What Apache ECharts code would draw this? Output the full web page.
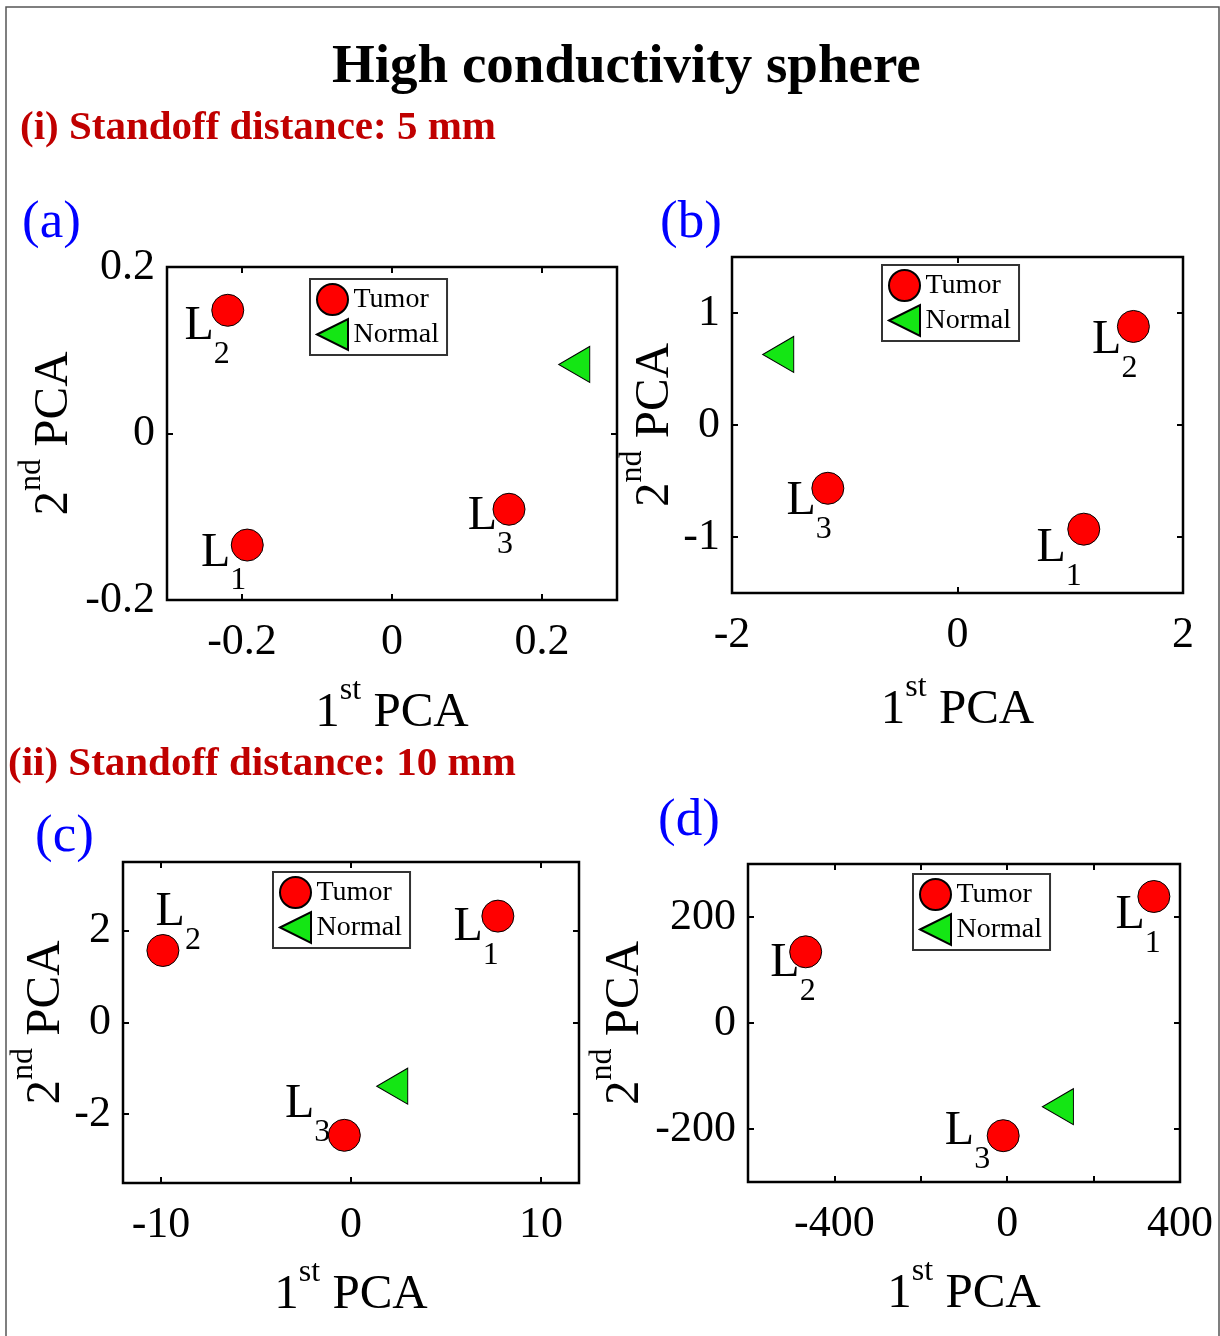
<!DOCTYPE html>
<html>
<head>
<meta charset="utf-8">
<script src="https://cdn.jsdelivr.net/npm/echarts@6/dist/echarts.min.js"></script>
<style>
html, body { margin: 0; padding: 0; background: #fff; }
#chart { width: 1220px; height: 1336px; }
</style>
</head>
<body>
<div id="chart"></div>
<script>
// PCA scores: three tumor locations (L1, L2, L3) and the normal (tumor-free) case
const tumorNames = ['L1', 'L2', 'L3'];

// (a) standoff 5 mm
const aTumorX = [-0.193, -0.219, 0.156];
const aTumorY = [-0.134, 0.148, -0.091];
const aNormal = [0.243, 0.083];
// (b) standoff 5 mm
const bTumorX = [1.12, 1.56, -1.15];
const bTumorY = [-0.93, 0.88, -0.565];
const bNormal = [-1.59, 0.63];
// (c) standoff 10 mm
const cTumorX = [7.73, -9.9, -0.35];
const cTumorY = [2.32, 1.57, -2.46];
const cNormal = [2.17, -1.39];
// (d) standoff 10 mm
const dTumorX = [339.5, -466.5, -9.3];
const dTumorY = [238.7, 134.3, -212.6];
const dNormal = [117.4, -158];

// axis ranges, tick positions and tick labels
const aXRange = [-0.3, 0.3], aYRange = [-0.2, 0.2];
const aXTicks = [-0.2, 0, 0.2], aYTicks = [-0.2, 0, 0.2];
const bXRange = [-2, 2], bYRange = [-1.5, 1.5];
const bXTicks = [-2, 0, 2], bYTicks = [-1, 0, 1];
const cXRange = [-12, 12], cYRange = [-3.5, 3.5];
const cXTicks = [-10, 0, 10], cYTicks = [-2, 0, 2];
const dXRange = [-600, 400], dYRange = [-300, 300];
const dXTicks = [-400, -200, 0, 200, 400], dXLabels = [-400, 0, 400], dYTicks = [-200, 0, 200];

const legendNames = ['Tumor', 'Normal'];
const xTitle = '{a|1}{s|st}{a| PCA}';
const yTitle = '{a|2}{s|nd}{a| PCA}';

const FONT = '"Liberation Serif", "Times New Roman", serif';
const RED = '#ff0000';
const GREEN = '#14e614';
const TRI_LEFT = 'path://M0,50L100,0L100,100Z';

// panel layout (pixels)
const panels = [
  { tx: aTumorX, ty: aTumorY, nrm: aNormal, xr: aXRange, yr: aYRange, xt: aXTicks, xl: aXTicks, yt: aYTicks,
    grid: { left: 167, top: 267, width: 450, height: 333 }, legend: { left: 310, top: 279 },
    xGap: 75, yGap: 102, offs: [[-1, -16], [2, -8], [4, -17]] },
  { tx: bTumorX, ty: bTumorY, nrm: bNormal, xr: bXRange, yr: bYRange, xt: bXTicks, xl: bXTicks, yt: bYTicks,
    grid: { left: 732, top: 257, width: 451, height: 336 }, legend: { left: 882, top: 265 },
    xGap: 79, yGap: 54, offs: [[-2, -5], [4, -10], [4, -11]] },
  { tx: cTumorX, ty: cTumorY, nrm: cNormal, xr: cXRange, yr: cYRange, xt: cXTicks, xl: cXTicks, yt: cYTicks,
    grid: { left: 123, top: 862, width: 456, height: 321 }, legend: { left: 273, top: 872 },
    xGap: 74, yGap: 57, offs: [[1, -13], [38, -62], [-14, -55]] },
  { tx: dTumorX, ty: dTumorY, nrm: dNormal, xr: dXRange, yr: dYRange, xt: dXTicks, xl: dXLabels, yt: dYTicks,
    grid: { left: 748, top: 864, width: 432, height: 318 }, legend: { left: 913, top: 874 },
    xGap: 74, yGap: 112, offs: [[7, -5], [10, -12], [-13, -28]] }
];

const nameRich = {
  a: { fontFamily: FONT, fontSize: 49, lineHeight: 49, padding: [14, 0, 0, 0], verticalAlign: 'top', color: '#000' },
  s: { fontFamily: FONT, fontSize: 32, lineHeight: 32, verticalAlign: 'top', color: '#000' }
};
const pointRich = {
  L: { fontFamily: FONT, fontSize: 48, lineHeight: 48, verticalAlign: 'top', color: '#000' },
  s: { fontFamily: FONT, fontSize: 32, lineHeight: 32, padding: [36, 0, 0, 0], verticalAlign: 'top', color: '#000' }
};

const grids = [], xAxes = [], yAxes = [], legends = [], series = [];

panels.forEach((p, k) => {
  grids.push(Object.assign({ show: true, borderColor: '#000', borderWidth: 2.5, containLabel: false }, p.grid));

  const tickStyle = { show: true, inside: true, length: 6, lineStyle: { color: '#000', width: 2 } };
  const labelStyle = { fontFamily: FONT, fontSize: 44, color: '#000' };

  xAxes.push({
    type: 'value', gridIndex: k, position: 'bottom', min: p.xr[0], max: p.xr[1],
    axisLine: { show: false, onZero: false }, splitLine: { show: false },
    axisTick: Object.assign({ customValues: p.xt }, tickStyle),
    axisLabel: Object.assign({ customValues: p.xl, margin: 20 }, labelStyle),
    name: xTitle, nameLocation: 'middle', nameGap: p.xGap, nameTextStyle: { rich: nameRich }
  });
  xAxes.push({
    type: 'value', gridIndex: k, position: 'top', min: p.xr[0], max: p.xr[1],
    axisLine: { show: false, onZero: false }, splitLine: { show: false },
    axisTick: Object.assign({ customValues: p.xt }, tickStyle),
    axisLabel: { show: false }
  });
  yAxes.push({
    type: 'value', gridIndex: k, position: 'left', min: p.yr[0], max: p.yr[1],
    axisLine: { show: false, onZero: false }, splitLine: { show: false },
    axisTick: Object.assign({ customValues: p.yt }, tickStyle),
    axisLabel: Object.assign({ customValues: p.yt, margin: 12, padding: [5, 0, 0, 0] }, labelStyle),
    name: yTitle, nameLocation: 'middle', nameRotate: 90, nameGap: p.yGap, nameTextStyle: { rich: nameRich }
  });
  yAxes.push({
    type: 'value', gridIndex: k, position: 'right', min: p.yr[0], max: p.yr[1],
    axisLine: { show: false, onZero: false }, splitLine: { show: false },
    axisTick: Object.assign({ customValues: p.yt }, tickStyle),
    axisLabel: { show: false }
  });

  legends.push({
    left: p.legend.left, top: p.legend.top, orient: 'vertical', selectedMode: false,
    data: legendNames, itemWidth: 32, itemHeight: 31, itemGap: 2, padding: [4, 8, 4, 6],
    borderColor: '#333', borderWidth: 2, backgroundColor: '#fff',
    textStyle: { fontFamily: FONT, fontSize: 28, color: '#000' }
  });

  series.push({
    type: 'scatter', name: 'Tumor', xAxisIndex: 2 * k, yAxisIndex: 2 * k,
    symbol: 'circle', symbolSize: 32,
    itemStyle: { color: RED, borderColor: '#000', borderWidth: 1, opacity: 1 },
    emphasis: { disabled: true },
    label: {
      show: true, position: 'inside', align: 'right', verticalAlign: 'top', color: '#000',
      formatter: d => '{L|L}{s|' + d.name.slice(1) + '}', rich: pointRich
    },
    data: p.tx.map((x, i) => ({ name: tumorNames[i], value: [x, p.ty[i]], label: { offset: p.offs[i] } }))
  });
  series.push({
    type: 'scatter', name: 'Normal', xAxisIndex: 2 * k, yAxisIndex: 2 * k,
    symbol: TRI_LEFT, symbolSize: [31, 36],
    itemStyle: { color: GREEN, borderColor: '#000', borderWidth: 1, opacity: 1 },
    emphasis: { disabled: true },
    data: [p.nrm]
  });
});

const titles = [
  { text: 'High conductivity sphere', left: 332, top: 40, padding: 0,
    textStyle: { fontFamily: FONT, fontSize: 55, fontWeight: 'bold', color: '#000', lineHeight: 55 } },
  { text: '(i) Standoff distance: 5 mm', left: 20, top: 108, padding: 0,
    textStyle: { fontFamily: FONT, fontSize: 41, fontWeight: 'bold', color: '#c00000', lineHeight: 41 } },
  { text: '(ii) Standoff distance: 10 mm', left: 8, top: 744, padding: 0,
    textStyle: { fontFamily: FONT, fontSize: 41, fontWeight: 'bold', color: '#c00000', lineHeight: 41 } },
  { text: '(a)', left: 22, top: 197, padding: 0, textStyle: { fontFamily: FONT, fontSize: 53, fontWeight: 'normal', color: '#0000ff', lineHeight: 53 } },
  { text: '(b)', left: 660, top: 197, padding: 0, textStyle: { fontFamily: FONT, fontSize: 53, fontWeight: 'normal', color: '#0000ff', lineHeight: 53 } },
  { text: '(c)', left: 35, top: 811, padding: 0, textStyle: { fontFamily: FONT, fontSize: 53, fontWeight: 'normal', color: '#0000ff', lineHeight: 53 } },
  { text: '(d)', left: 658, top: 795, padding: 0, textStyle: { fontFamily: FONT, fontSize: 53, fontWeight: 'normal', color: '#0000ff', lineHeight: 53 } }
];

const chart = echarts.init(document.getElementById('chart'), null, { renderer: 'canvas' });
chart.setOption({
  backgroundColor: '#fff',
  animation: false,
  title: titles,
  grid: grids,
  xAxis: xAxes,
  yAxis: yAxes,
  legend: legends,
  series: series,
  graphic: [{
    type: 'rect', silent: true, z: 100,
    shape: { x: 6, y: 7, width: 1213, height: 1345 },
    style: { fill: 'none', stroke: '#555', lineWidth: 1.5 }
  }]
});
</script>
</body>
</html>
